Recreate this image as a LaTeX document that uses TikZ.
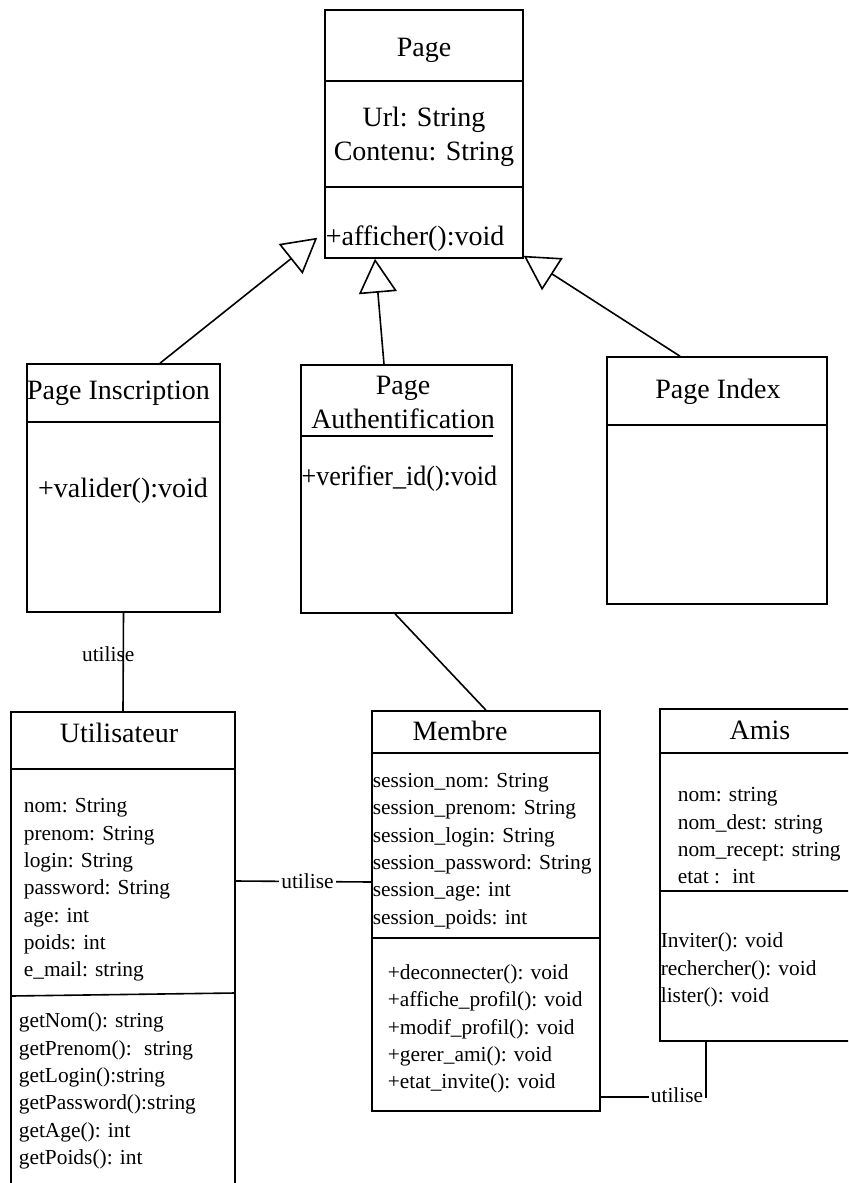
\documentclass[tikz,border=0pt]{standalone}
\usepackage{fontspec}
\setmainfont{Liberation Serif}
\usetikzlibrary{arrows.meta}

\tikzset{
    big/.style={font=\fontsize{14}{17}\selectfont},
    small/.style={font=\fontsize{10.7}{13.65}\selectfont},
    members/.style={small, align=left, anchor=west, inner sep=0pt},
    classbox/.style={draw, inner sep=0pt},
    inherit/.style={-{Triangle[open, length=17pt, width=19pt]}},
    lbl/.style={small, inner sep=1pt},
}

\begin{document}
\begin{tikzpicture}[x=0.5pt, y=-0.5pt, line width=0.8pt]
        \clip (0,0) rectangle (848,1183);

        \node[classbox, minimum width=99pt, minimum height=124pt] (page) at (424,134) {};
        \node[classbox, minimum width=96.5pt, minimum height=124pt] (insc) at (123.5,488) {};
        \node[classbox, minimum width=105.5pt, minimum height=124pt] (auth) at (406.5,489) {};
        \node[classbox, minimum width=110pt, minimum height=123.5pt] (index) at (717,480.5) {};
        \node[classbox, minimum width=112pt, minimum height=249pt] (util) at (123,961) {};
        \node[classbox, minimum width=114pt, minimum height=200pt] (membre) at (486,911) {};
        \node[classbox, minimum width=105pt, minimum height=166pt] (amis) at (765,875) {};

        \draw (325,81) -- (523,81);
        \draw (325,187) -- (523,187);
        \draw (27,422) -- (220,422);
        \draw (301,436) -- (493,436);
        \draw (607,425) -- (827,425);
        \draw (11,769) -- (235,769);
        \draw (11,996) -- (235,993);
        \draw (372,753) -- (600,753);
        \draw (372,938) -- (600,938);
        \draw (660,753) -- (870,753);
        \draw (660,891) -- (870,891);

        \node[big] (pagetitle) at (424,50) {Page};
        \node[big, align=center] (pageattr) at (424,137) {Url: String\\Contenu: String};
        \node[big, anchor=west, inner sep=0pt] (pagemeth) at (325,239) {+afficher():void};

        \node[big] (insctitle) at (118.5,393) {Page Inscription};
        \node[big] (inscmeth) at (123,491) {+valider():void};

        \node[big, align=center] (authtitle) at (403,402) {Page\\Authentification};
        \node[big, anchor=west, inner sep=0pt, xscale=0.93] (authmeth) at (301,479) {+verifier\_id():void};

        \node[big] (indextitle) at (718,392) {Page Index};

        \node[big] (utiltitle) at (119,733) {Utilisateur};
        \node[members] (utilattr) at (23,890) {nom: String\\prenom: String\\login: String\\password: String\\age: int\\poids: int\\e\_mail: string};
        \node[members] (utilmeth) at (18,1091) {getNom(): string\\getPrenom():~ string\\getLogin():string\\getPassword():string\\getAge(): int\\getPoids(): int};

        \node[big] (membretitle) at (460,731) {Membre};
        \node[members] (membreattr) at (372,851) {session\_nom: String\\session\_prenom: String\\session\_login: String\\session\_password: String\\session\_age: int\\session\_poids: int};
        \node[members] (membremeth) at (387,1029) {+deconnecter(): void\\+affiche\_profil(): void\\+modif\_profil(): void\\+gerer\_ami(): void\\+etat\_invite(): void};

        \node[big] (amistitle) at (760,730) {Amis};
        \node[members] (amisattr) at (677,836) {nom: string\\nom\_dest: string\\nom\_recept: string\\etat :~ int};
        \node[members] (amismeth) at (660,970) {Inviter(): void\\rechercher(): void\\lister(): void};

        \draw[inherit] ([xshift=18.25pt]insc.north) -- ([xshift=-3.5pt, yshift=10.5pt]page.south west);
        \draw[inherit] ([xshift=-11.25pt]auth.north) -- ([xshift=-24.5pt]page.south);
        \draw[inherit] ([xshift=-18.5pt]index.north) -- ([yshift=1.5pt]page.south east);

        \draw (insc.south) -- node[lbl, xshift=-7.5pt, yshift=4pt] (utilise1) {utilise} (util.north);
        \draw ([xshift=-5.75pt]auth.south) -- (membre.north);
        \draw ([yshift=40pt]util.east) -- node[lbl, fill=white, xshift=2pt] (utilise2) {utilise} ([yshift=14.5pt]membre.west);
        \draw ([yshift=-93pt]membre.east) -| node[lbl, pos=0.5, anchor=east, fill=white, yshift=1pt] (utilise3) {utilise} ([xshift=-29.5pt]amis.south);
    \end{tikzpicture}
\end{document}
